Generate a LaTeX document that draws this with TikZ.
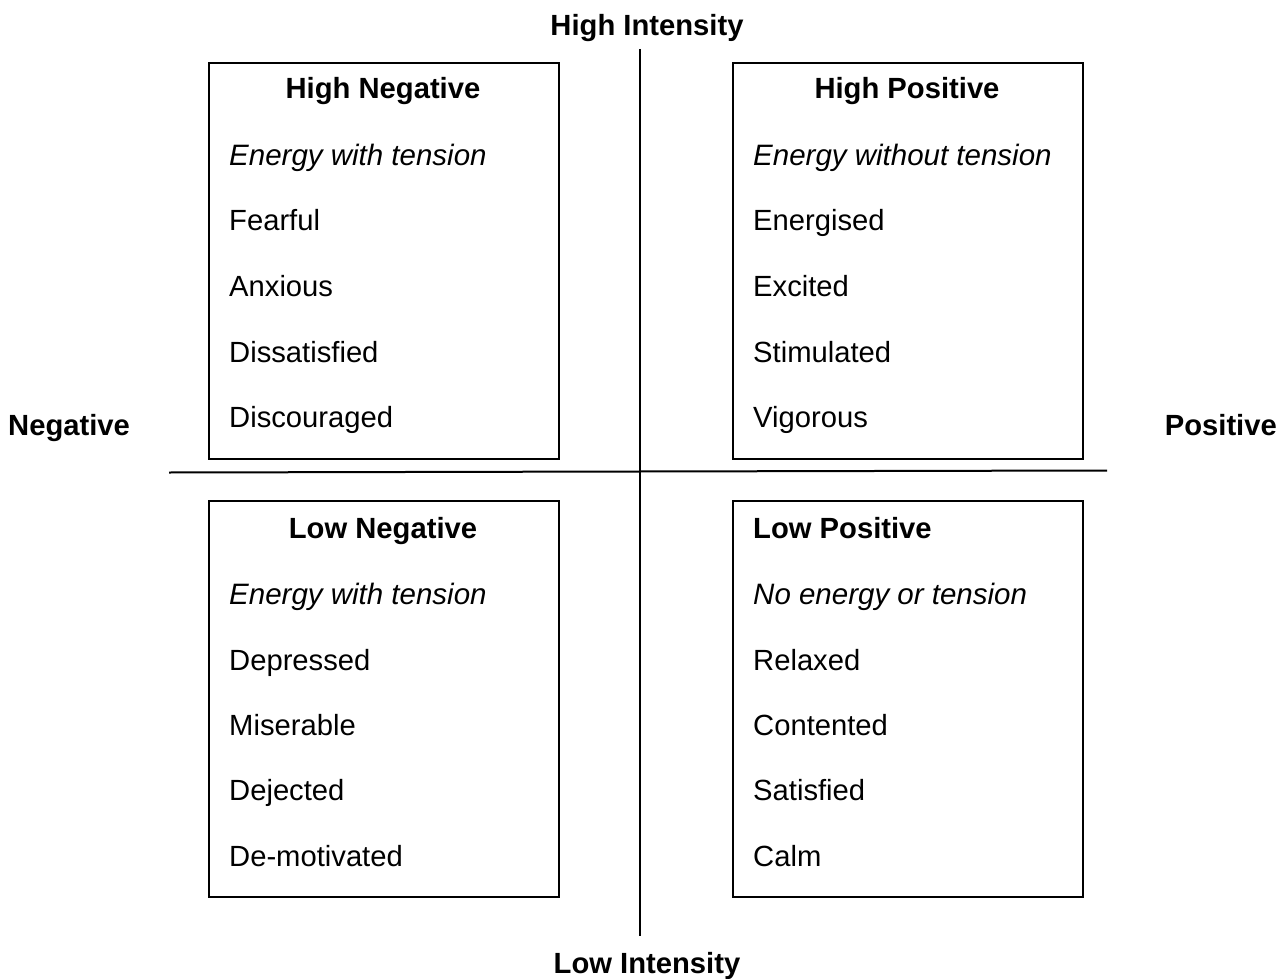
\documentclass[tikz,border=0pt]{standalone}
\usepackage{fontspec}
\setmainfont{Liberation Sans}
\begin{document}
\begin{tikzpicture}[x=1pt,y=-1pt,
  every node/.style={font=\fontsize{29.2}{34}\selectfont, inner sep=0pt},
  quad/.style={draw, line width=2pt},
  axis/.style={line width=2pt},
  head/.style={font=\fontsize{29.2}{34}\selectfont\bfseries, anchor=base},
  item/.style={anchor=base west},
  sub/.style={anchor=base west, font=\fontsize{29.5}{34}\selectfont\itshape}]
\useasboundingbox (0,0) rectangle (1285,979);

% axes
\coordinate (vtop) at (640,49);
\coordinate (vbot) at (640,936);
\coordinate (hl) at (169,472.5);
\coordinate (hr) at (1107,470.5);
\draw[axis] (vtop) -- (vbot);
\draw[axis] (hl) -- (hr);

% axis labels
\node[head] (hi) at (647,36) {High Intensity};
\node[head] (lo) at (647,973) {Low Intensity};
\node[head, anchor=base west] (neg) at (8,435) {Negative};
\node[head, anchor=base east] (pos) at (1277,435) {Positive};

% quadrant frames
\node[quad, minimum width=350pt, minimum height=396pt, anchor=north west] (hn) at (208,62) {};
\node[quad, minimum width=350pt, minimum height=396pt, anchor=north west] (hp) at (732,62) {};
\node[quad, minimum width=350pt, minimum height=396pt, anchor=north west] (ln) at (208,500) {};
\node[quad, minimum width=350pt, minimum height=396pt, anchor=north west] (lp) at (732,500) {};

% High Negative
\node[head] (hnh) at (383,99) {High Negative};
\node[sub] (hns) at (229,165) {Energy with tension};
\node[item] (hn1) at (229,230) {Fearful};
\node[item] (hn2) at (229,296) {Anxious};
\node[item] (hn3) at (229,362) {Dissatisfied};
\node[item] (hn4) at (229,427) {Discouraged};

% High Positive
\node[head] (hph) at (907,99) {High Positive};
\node[sub] (hps) at (753,165) {Energy without tension};
\node[item] (hp1) at (753,230) {Energised};
\node[item] (hp2) at (753,296) {Excited};
\node[item] (hp3) at (753,362) {Stimulated};
\node[item] (hp4) at (753,427) {Vigorous};

% Low Negative
\node[head] (lnh) at (383,538) {Low Negative};
\node[sub] (lns) at (229,604) {Energy with tension};
\node[item] (ln1) at (229,670) {Depressed};
\node[item] (ln2) at (229,735) {Miserable};
\node[item] (ln3) at (229,800) {Dejected};
\node[item] (ln4) at (229,866) {De-motivated};

% Low Positive
\node[head, anchor=base west] (lph) at (753,538) {Low Positive};
\node[sub] (lps) at (753,604) {No energy or tension};
\node[item] (lp1) at (753,670) {Relaxed};
\node[item] (lp2) at (753,735) {Contented};
\node[item] (lp3) at (753,800) {Satisfied};
\node[item] (lp4) at (753,866) {Calm};
\end{tikzpicture}
\end{document}
